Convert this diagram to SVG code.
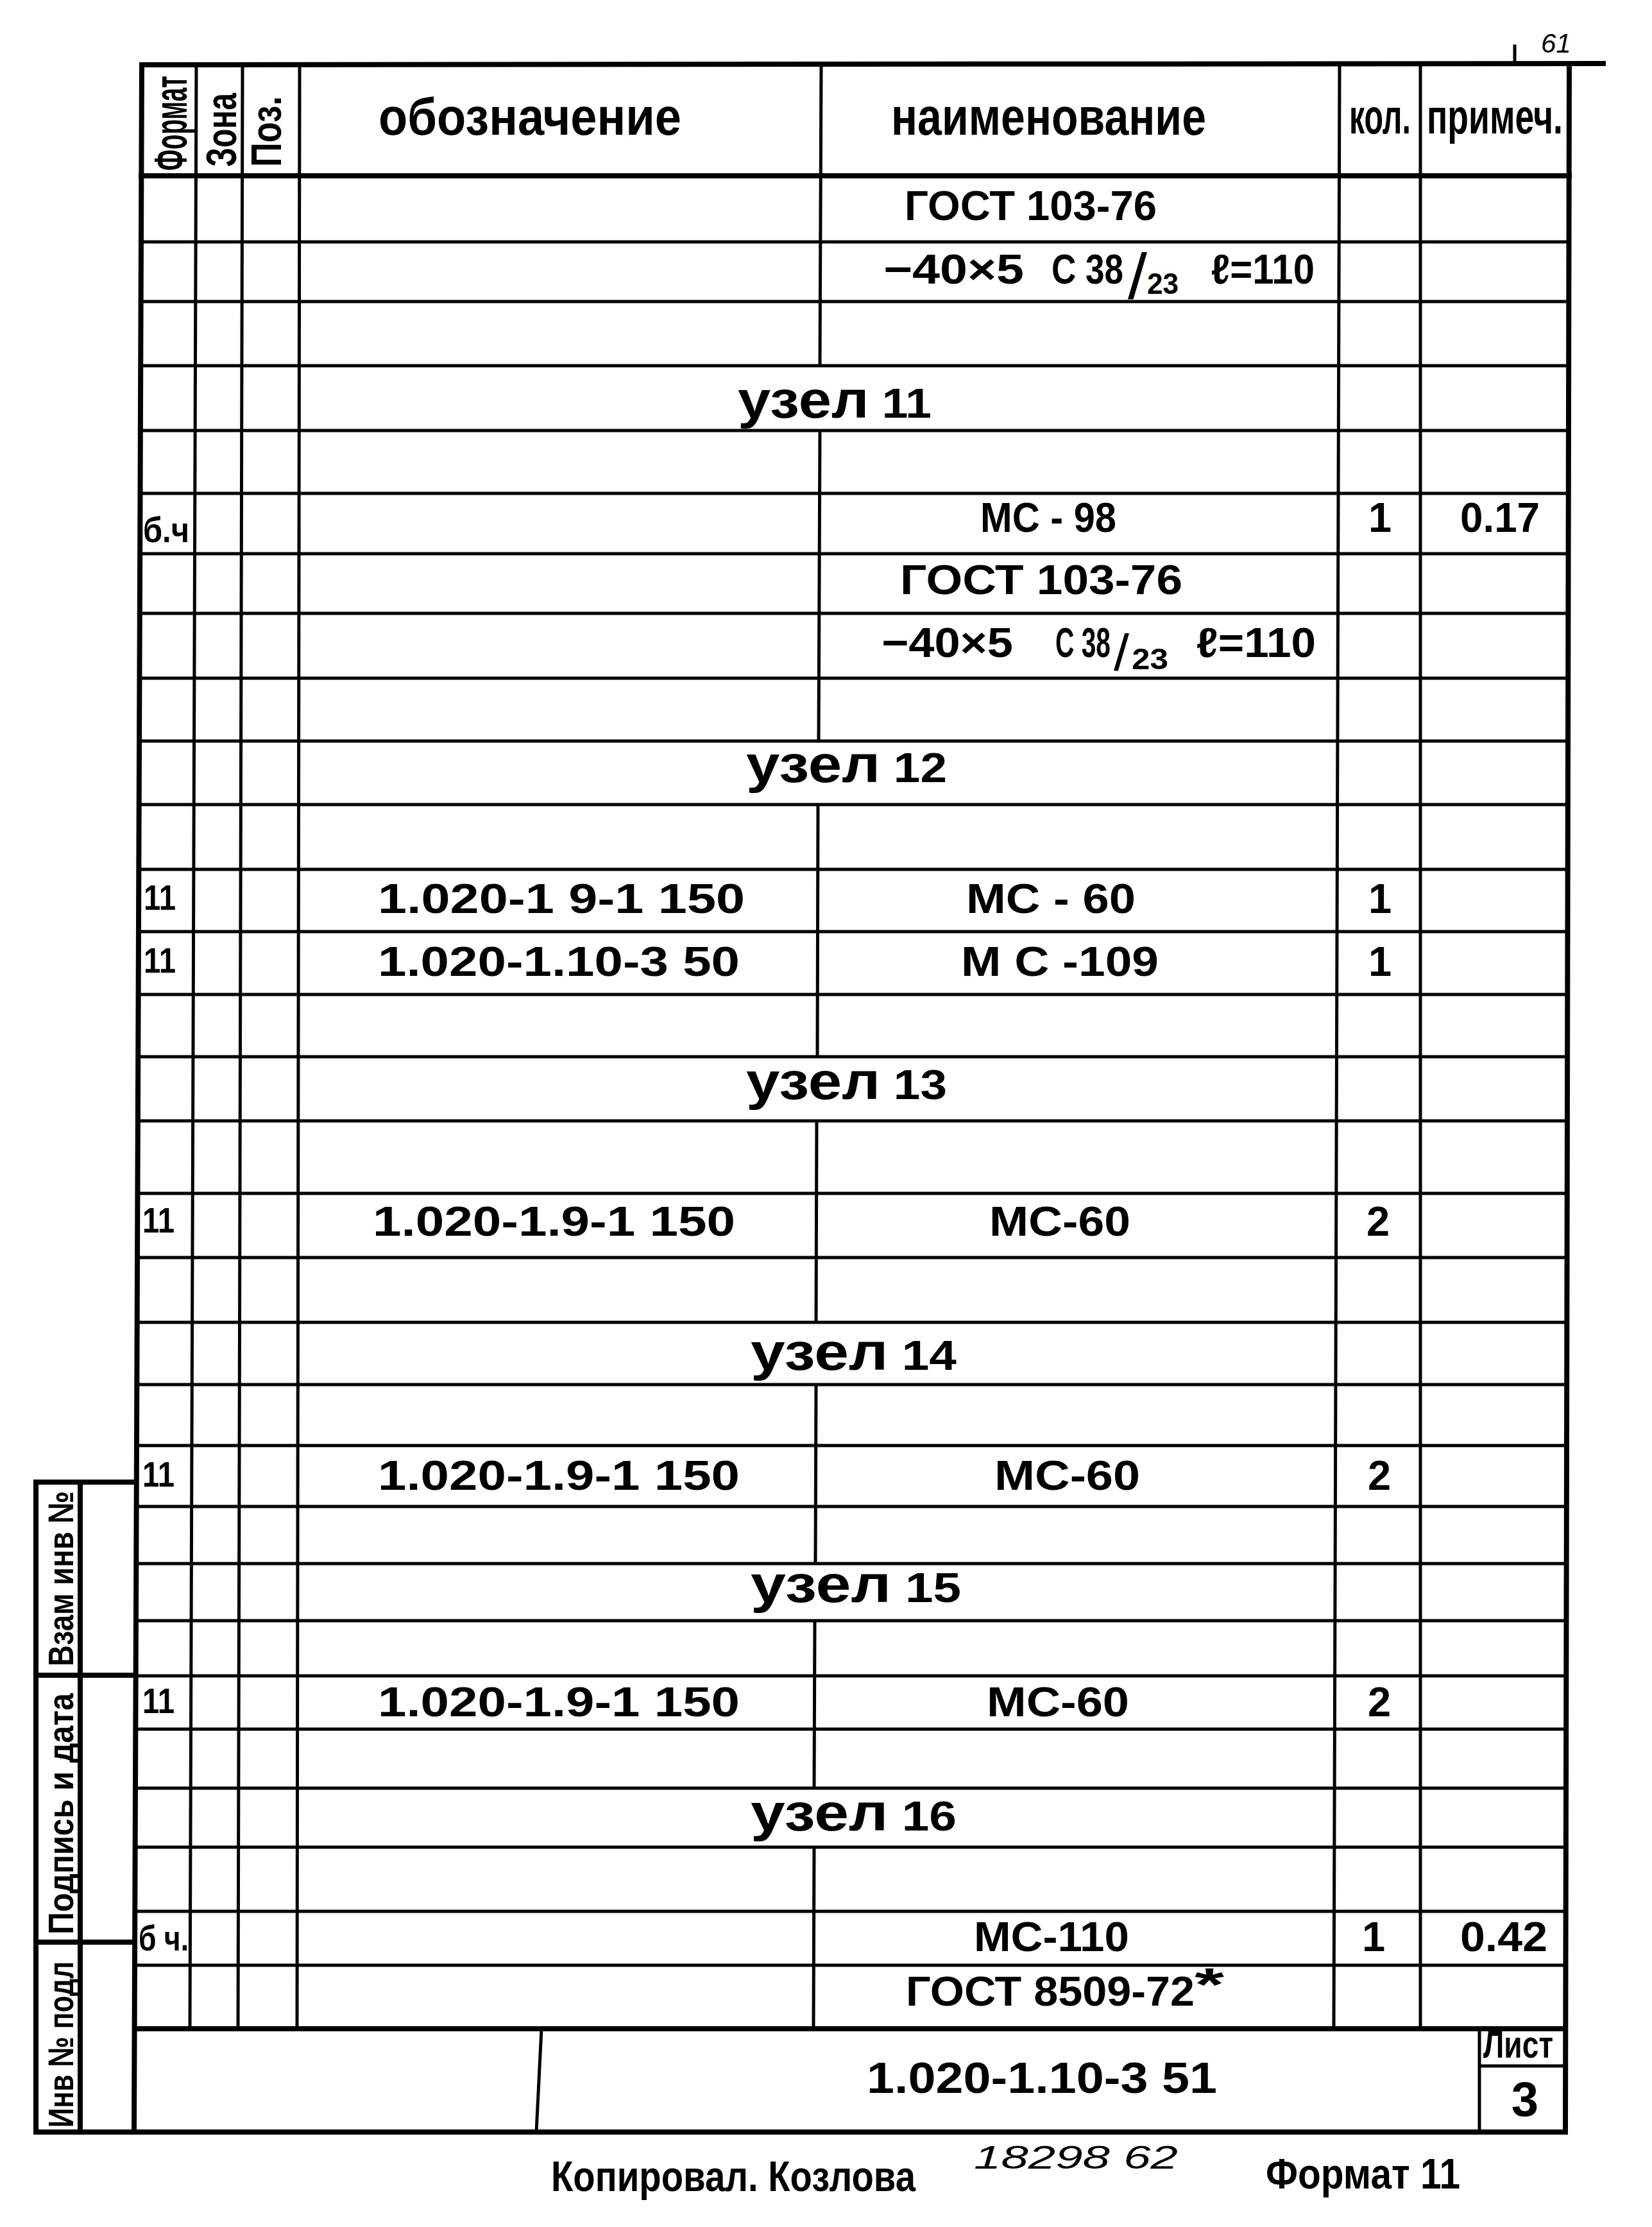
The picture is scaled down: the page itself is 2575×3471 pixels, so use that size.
<svg xmlns="http://www.w3.org/2000/svg" width="2575" height="3471" viewBox="0 0 2575 3471">
<style>
.ln{fill:none;stroke:#000;stroke-width:5;stroke-linecap:square}
.tk{fill:none;stroke:#000;stroke-width:8;stroke-linecap:square}
.t{font-family:"Liberation Sans","DejaVu Sans",sans-serif;font-weight:bold;fill:#000;font-size:65px}
.h{font-size:82px}
.s{font-size:56px}
.lc{font-size:82px}
.sub{font-size:46px}
.hw{font-family:"Liberation Sans","DejaVu Sans",sans-serif;font-style:italic;font-weight:normal;fill:#000}
</style>
<rect width="2575" height="3471" fill="#fff"/>

<g id="grid">
<path class="tk" d="M221,101 L2499,99 M221,101 L209,3323 M2446,101 L2440,3323 M209,3323 L2440,3323 M220,274 L2446,274 M210,3162 L2440,3162"/>
<path class="ln" d="M306,101 L296,3162 M378,101 L371,3162 M467,101 L463,3162 M2088,101 L2079,3162 M2214,101 L2214,3162
M1280,101 L1278,570 M1278,671 L1276,1155 M1275,1254 L1274,1647 M1273,1747 L1272,2061 M1272,2158 L1271,2437 M1270,2526 L1269,2787 M1269,2879 L1268,3162
M220,377 L2445,377 M220,470 L2445,470 M219,570 L2445,570 M219,671 L2445,671 M218,769 L2445,769 M218,863 L2445,863 M218,956 L2444,956 M217,1057 L2444,1057 M217,1155 L2444,1155 M217,1254 L2444,1254 M216,1355 L2444,1355 M216,1452 L2443,1452 M216,1550 L2443,1550 M215,1647 L2443,1647 M215,1747 L2443,1747 M214,1860 L2443,1860 M214,1960 L2442,1960 M214,2061 L2442,2061 M213,2158 L2442,2158 M213,2253 L2442,2253 M213,2348 L2442,2348 M212,2437 L2442,2437 M212,2526 L2441,2526 M212,2612 L2441,2612 M211,2695 L2441,2695 M211,2787 L2441,2787 M211,2879 L2441,2879 M210,2979 L2441,2979 M210,3063 L2440,3063
M844,3162 L836,3323 M2306,3162 L2306,3323 M2306,3220 L2440,3220
M2361,72 L2361,96"/>
</g>

<g id="stamp">
<path class="tk" d="M56,2310 L210,2310 M56,2310 L56,3323 L209,3323 M125,2310 L125,3323 M56,2611 L211,2611 M56,3027 L210,3027"/>
<text class="t s" transform="translate(114,2597) rotate(-90)" textLength="273" lengthAdjust="spacingAndGlyphs">Взам инв №</text>
<text class="t s" transform="translate(114,3015) rotate(-90)" textLength="376" lengthAdjust="spacingAndGlyphs">Подпись и дата</text>
<text class="t s" transform="translate(114,3316) rotate(-90)" textLength="259" lengthAdjust="spacingAndGlyphs">Инв № подл</text>
</g>

<g id="header">
<text class="t" style="font-size:72px" transform="translate(291,266) rotate(-90)" textLength="148" lengthAdjust="spacingAndGlyphs">Формат</text>
<text class="t" style="font-size:66px" transform="translate(368,260) rotate(-90)" textLength="115" lengthAdjust="spacingAndGlyphs">Зона</text>
<text class="t" style="font-size:66px" transform="translate(438,260) rotate(-90)" textLength="110" lengthAdjust="spacingAndGlyphs">Поз.</text>
<text class="t h" x="590" y="210" textLength="472" lengthAdjust="spacingAndGlyphs">обозначение</text>
<text class="t h" x="1389" y="210" textLength="491" lengthAdjust="spacingAndGlyphs">наименование</text>
<text class="t" style="font-size:76px" x="2103" y="208" textLength="96" lengthAdjust="spacingAndGlyphs">кол.</text>
<text class="t" style="font-size:76px" x="2224" y="208" textLength="212" lengthAdjust="spacingAndGlyphs">примеч.</text>
</g>

<g id="rows">
<text class="t" x="1410" y="343" textLength="393" lengthAdjust="spacingAndGlyphs">ГОСТ 103-76</text>
<text class="t" x="1377" y="442" textLength="219" lengthAdjust="spacingAndGlyphs">−40×5</text>
<text class="t" x="1639" y="442" textLength="112" lengthAdjust="spacingAndGlyphs">С 38</text>
<text class="t" style="font-size:100px;font-weight:normal" x="1758" y="466" textLength="30" lengthAdjust="spacingAndGlyphs">/</text>
<text class="t sub" x="1788" y="458" textLength="49" lengthAdjust="spacingAndGlyphs">23</text>
<text class="t" x="1888" y="442" textLength="161" lengthAdjust="spacingAndGlyphs">ℓ=110</text>

<text class="t" x="1150" y="651" textLength="302" lengthAdjust="spacingAndGlyphs"><tspan class="lc">узел</tspan> 11</text>

<text class="t s" x="223" y="845" textLength="72" lengthAdjust="spacingAndGlyphs">б.ч</text>
<text class="t" x="1528" y="829" textLength="212" lengthAdjust="spacingAndGlyphs">МС - 98</text>
<text class="t" x="2151" y="829" text-anchor="middle">1</text>
<text class="t" x="2276" y="829" textLength="124" lengthAdjust="spacingAndGlyphs">0.17</text>
<text class="t" x="1403" y="926" textLength="440" lengthAdjust="spacingAndGlyphs">ГОСТ  103-76</text>
<text class="t" x="1374" y="1024" textLength="205" lengthAdjust="spacingAndGlyphs">−40×5</text>
<text class="t" x="1645" y="1024" textLength="86" lengthAdjust="spacingAndGlyphs">С 38</text>
<text class="t" style="font-size:80px;font-weight:normal" x="1736" y="1045" textLength="24" lengthAdjust="spacingAndGlyphs">/</text>
<text class="t sub" x="1764" y="1043" textLength="57" lengthAdjust="spacingAndGlyphs">23</text>
<text class="t" x="1865" y="1024" textLength="186" lengthAdjust="spacingAndGlyphs">ℓ=110</text>

<text class="t" x="1163" y="1219" textLength="313" lengthAdjust="spacingAndGlyphs"><tspan class="lc">узел</tspan> 12</text>

<text class="t s" x="224" y="1418" textLength="50" lengthAdjust="spacingAndGlyphs">11</text>
<text class="t" x="589" y="1423" textLength="572" lengthAdjust="spacingAndGlyphs">1.020-1 9-1 150</text>
<text class="t" x="1506" y="1423" textLength="264" lengthAdjust="spacingAndGlyphs">МС - 60</text>
<text class="t" x="2151" y="1423" text-anchor="middle">1</text>

<text class="t s" x="224" y="1516" textLength="50" lengthAdjust="spacingAndGlyphs">11</text>
<text class="t" x="589" y="1521" textLength="564" lengthAdjust="spacingAndGlyphs">1.020-1.10-3  50</text>
<text class="t" x="1498" y="1521" textLength="308" lengthAdjust="spacingAndGlyphs">М С -109</text>
<text class="t" x="2151" y="1521" text-anchor="middle">1</text>

<text class="t" x="1163" y="1713" textLength="313" lengthAdjust="spacingAndGlyphs"><tspan class="lc">узел</tspan> 13</text>

<text class="t s" x="222" y="1921" textLength="50" lengthAdjust="spacingAndGlyphs">11</text>
<text class="t" x="581" y="1926" textLength="565" lengthAdjust="spacingAndGlyphs">1.020-1.9-1 150</text>
<text class="t" x="1542" y="1926" textLength="220" lengthAdjust="spacingAndGlyphs">МС-60</text>
<text class="t" x="2148" y="1926" text-anchor="middle">2</text>

<text class="t" x="1170" y="2135" textLength="321" lengthAdjust="spacingAndGlyphs"><tspan class="lc">узел</tspan> 14</text>

<text class="t s" x="222" y="2317" textLength="50" lengthAdjust="spacingAndGlyphs">11</text>
<text class="t" x="589" y="2322" textLength="564" lengthAdjust="spacingAndGlyphs">1.020-1.9-1 150</text>
<text class="t" x="1550" y="2322" textLength="227" lengthAdjust="spacingAndGlyphs">МС-60</text>
<text class="t" x="2150" y="2322" text-anchor="middle">2</text>

<text class="t" x="1170" y="2497" textLength="328" lengthAdjust="spacingAndGlyphs"><tspan class="lc">узел</tspan> 15</text>

<text class="t s" x="222" y="2670" textLength="50" lengthAdjust="spacingAndGlyphs">11</text>
<text class="t" x="589" y="2675" textLength="564" lengthAdjust="spacingAndGlyphs">1.020-1.9-1 150</text>
<text class="t" x="1538" y="2675" textLength="222" lengthAdjust="spacingAndGlyphs">МС-60</text>
<text class="t" x="2150" y="2675" text-anchor="middle">2</text>

<text class="t" x="1170" y="2853" textLength="321" lengthAdjust="spacingAndGlyphs"><tspan class="lc">узел</tspan> 16</text>

<text class="t s" x="216" y="3040" textLength="78" lengthAdjust="spacingAndGlyphs">б ч.</text>
<text class="t" x="1518" y="3041" textLength="242" lengthAdjust="spacingAndGlyphs">МС-110</text>
<text class="t" x="2141" y="3041" text-anchor="middle">1</text>
<text class="t" x="2276" y="3041" textLength="136" lengthAdjust="spacingAndGlyphs">0.42</text>
<text class="t" x="1412" y="3126" textLength="450" lengthAdjust="spacingAndGlyphs">ГОСТ 8509-72</text>
<text class="t" style="font-size:72px" x="1862" y="3118" textLength="46" lengthAdjust="spacingAndGlyphs">*</text>
</g>

<g id="title-block">
<text class="t" style="font-size:68px" x="1351" y="3262" textLength="546" lengthAdjust="spacingAndGlyphs">1.020-1.10-3 51</text>
<text class="t" style="font-size:60px" x="2312" y="3207" textLength="109" lengthAdjust="spacingAndGlyphs">Лист</text>
<text class="t" style="font-size:76px" x="2377" y="3298" text-anchor="middle">3</text>
</g>

<g id="notes">
<text class="hw" style="font-size:42px" x="2402" y="82">61</text>
<text class="t" style="font-size:66px" x="859" y="3415" textLength="568" lengthAdjust="spacingAndGlyphs">Копировал. Козлова</text>
<text class="hw" style="font-size:50px" x="1518" y="3380" textLength="318" lengthAdjust="spacingAndGlyphs">18298  62</text>
<text class="t" style="font-size:66px" x="1973" y="3411" textLength="303" lengthAdjust="spacingAndGlyphs">Формат 11</text>
</g>
</svg>
